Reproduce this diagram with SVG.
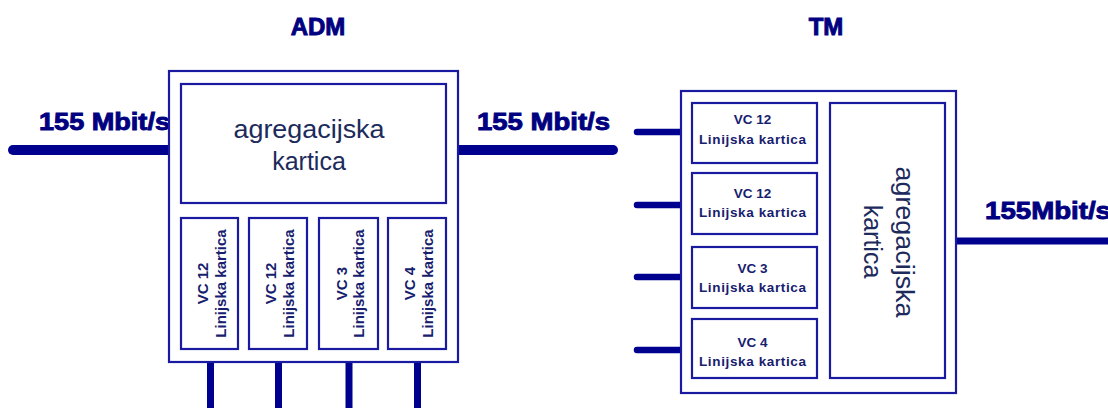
<svg xmlns="http://www.w3.org/2000/svg" width="1108" height="408" viewBox="0 0 1108 408">
<style>
.box{fill:#fff;stroke:#1a1aa0;stroke-width:2.2}
.wire{stroke:#00008f;fill:none;stroke-linecap:round}
.lbl{font-family:"Liberation Sans",Arial,sans-serif;font-weight:bold;fill:#000080;stroke:#000080;stroke-width:0.9}
.agg{font-family:"Liberation Sans",Arial,sans-serif;font-size:25px;fill:#1c2a5c;text-anchor:middle}
.card{font-family:"Liberation Sans",Arial,sans-serif;font-weight:bold;fill:#16206e;text-anchor:middle}
</style>
<rect width="1108" height="408" fill="#fff"/>
<g id="connectors">
<line class="wire" x1="13" y1="150" x2="170" y2="150" stroke-width="10"/>
<line class="wire" x1="457" y1="150" x2="613" y2="150" stroke-width="10"/>
<line class="wire" x1="210.5" y1="362" x2="210.5" y2="420" stroke-width="7" stroke-linecap="butt"/>
<line class="wire" x1="278.5" y1="362" x2="278.5" y2="420" stroke-width="7" stroke-linecap="butt"/>
<line class="wire" x1="349" y1="362" x2="349" y2="420" stroke-width="7" stroke-linecap="butt"/>
<line class="wire" x1="417.5" y1="362" x2="417.5" y2="420" stroke-width="7" stroke-linecap="butt"/>
<line class="wire" x1="637" y1="132" x2="692" y2="132" stroke-width="6.5"/>
<line class="wire" x1="637" y1="205" x2="692" y2="205" stroke-width="6.5"/>
<line class="wire" x1="637" y1="277" x2="692" y2="277" stroke-width="6.5"/>
<line class="wire" x1="637" y1="350" x2="692" y2="350" stroke-width="6.5"/>
<line class="wire" x1="956" y1="241" x2="1115" y2="241" stroke-width="7"/>
</g>
<g id="labels">
<text class="lbl" x="318" y="35" font-size="24" text-anchor="middle">ADM</text>
<text class="lbl" x="826" y="35" font-size="24" text-anchor="middle">TM</text>
<text class="lbl" x="39" y="130" font-size="24" textLength="131" lengthAdjust="spacingAndGlyphs">155 Mbit/s</text>
<text class="lbl" x="477" y="130" font-size="24" textLength="133" lengthAdjust="spacingAndGlyphs">155 Mbit/s</text>
<text class="lbl" x="985" y="219" font-size="24" textLength="126" lengthAdjust="spacingAndGlyphs">155Mbit/s</text>
</g>
<g id="adm">
<rect class="box" x="169" y="71" width="289" height="291"/>
<g id="adm-agg">
<rect class="box" x="181" y="84" width="265" height="119"/>
<text class="agg" x="309" y="138" textLength="151" lengthAdjust="spacingAndGlyphs">agregacijska</text>
<text class="agg" x="309" y="170">kartica</text>
</g>
<g id="adm-card1">
<rect class="box" x="181" y="218" width="57" height="131"/>
<text class="card" font-size="15" transform="translate(208,283.5) rotate(-90)">VC 12</text>
<text class="card" font-size="15" transform="translate(225.5,283.5) rotate(-90)">Linijska kartica</text>
</g>
<g id="adm-card2">
<rect class="box" x="249" y="218" width="58" height="131"/>
<text class="card" font-size="15" transform="translate(276,283.5) rotate(-90)">VC 12</text>
<text class="card" font-size="15" transform="translate(293.5,283.5) rotate(-90)">Linijska kartica</text>
</g>
<g id="adm-card3">
<rect class="box" x="319" y="218" width="59" height="131"/>
<text class="card" font-size="15" transform="translate(346.5,283.5) rotate(-90)">VC 3</text>
<text class="card" font-size="15" transform="translate(364,283.5) rotate(-90)">Linijska kartica</text>
</g>
<g id="adm-card4">
<rect class="box" x="388" y="218" width="58" height="131"/>
<text class="card" font-size="15" transform="translate(415,283.5) rotate(-90)">VC 4</text>
<text class="card" font-size="15" transform="translate(432.5,283.5) rotate(-90)">Linijska kartica</text>
</g>
</g>
<g id="tm">
<rect class="box" x="681" y="91" width="275" height="302"/>
<g id="tm-card1">
<rect class="box" x="692" y="103" width="125" height="60"/>
<text class="card" font-size="13.5" x="752.5" y="124">VC 12</text>
<text class="card" font-size="13.5" x="752.5" y="144" textLength="107" lengthAdjust="spacing">Linijska kartica</text>
</g>
<g id="tm-card2">
<rect class="box" x="692" y="173" width="125" height="61"/>
<text class="card" font-size="13.5" x="752.5" y="198">VC 12</text>
<text class="card" font-size="13.5" x="752.5" y="217" textLength="107" lengthAdjust="spacing">Linijska kartica</text>
</g>
<g id="tm-card3">
<rect class="box" x="692" y="247" width="125" height="61"/>
<text class="card" font-size="13.5" x="752.5" y="273">VC 3</text>
<text class="card" font-size="13.5" x="752.5" y="292" textLength="107" lengthAdjust="spacing">Linijska kartica</text>
</g>
<g id="tm-card4">
<rect class="box" x="692" y="319" width="125" height="59"/>
<text class="card" font-size="13.5" x="752.5" y="347">VC 4</text>
<text class="card" font-size="13.5" x="752.5" y="366" textLength="107" lengthAdjust="spacing">Linijska kartica</text>
</g>
<g id="tm-agg">
<rect class="box" x="830" y="103" width="115" height="275"/>
<text class="agg" transform="translate(896,242) rotate(90)" textLength="151" lengthAdjust="spacingAndGlyphs">agregacijska</text>
<text class="agg" transform="translate(864,241.5) rotate(90)">kartica</text>
</g>
</g>
</svg>
